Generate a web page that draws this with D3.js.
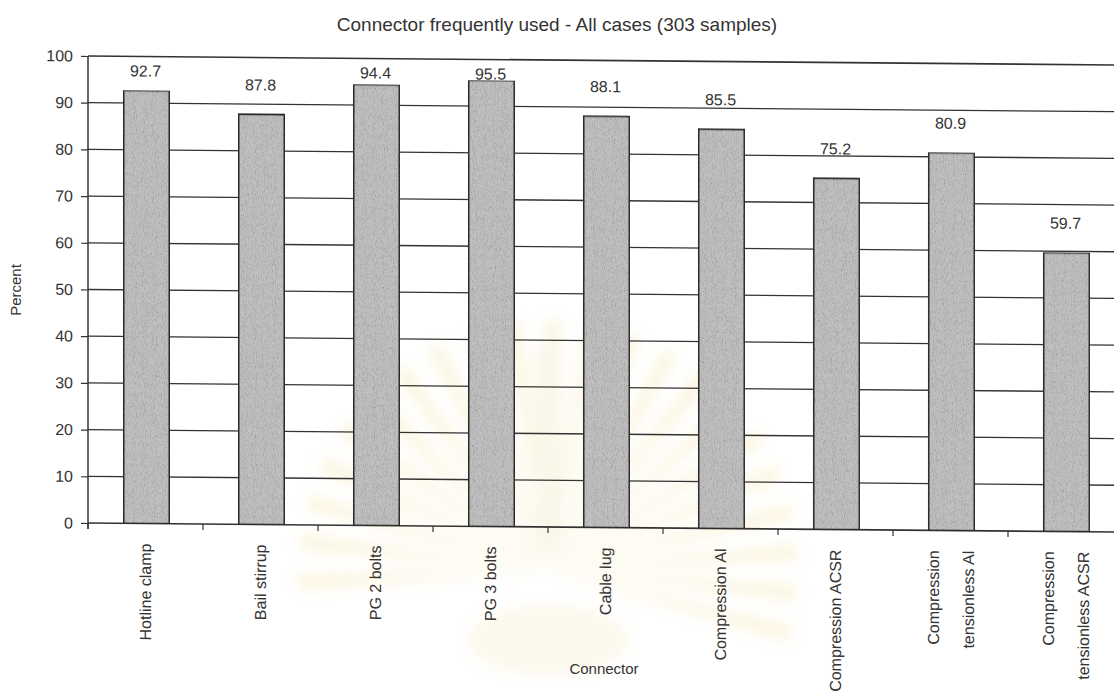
<!DOCTYPE html>
<html>
<head>
<meta charset="utf-8">
<script src="https://cdn.jsdelivr.net/npm/d3@7"></script>
<style>
  html, body { margin: 0; padding: 0; background: #fff; }
  svg { display: block; font-family: "Liberation Sans", Arial, sans-serif; }
</style>
</head>
<body>
<svg id="chart" width="1114" height="698"></svg>
<script>
// Connector usage, all cases (303 samples)
const connectors = [
  ["Hotline clamp"],
  ["Bail stirrup"],
  ["PG 2 bolts"],
  ["PG 3 bolts"],
  ["Cable lug"],
  ["Compression Al"],
  ["Compression ACSR"],
  ["Compression", "tensionless Al"],
  ["Compression", "tensionless ACSR"]
];
const percentUsed = [92.7, 87.8, 94.4, 95.5, 88.1, 85.5, 75.2, 80.9, 59.7];
const yTicks = [0, 10, 20, 30, 40, 50, 60, 70, 80, 90, 100];

const titleText = "Connector frequently used - All cases (303 samples)";
const yTitle = "Percent";
const xTitle = "Connector";

const svg = d3.select("#chart");
const W = 1114, H = 698;
const ink = "#333";

const plotLeft = 88, plotTop = 56, plotBottom = 523;
const step = 115;

const x = d3.scaleBand()
  .domain(d3.range(connectors.length))
  .range([plotLeft, plotLeft + step * connectors.length])
  .padding(0);

const y = d3.scaleLinear().domain([0, 100]).range([plotBottom, plotTop]);

// ---- defs: paper grain for the bars, soft blur for the emblem ----
const defs = svg.append("defs");
const grain = defs.append("filter").attr("id", "grain")
  .attr("x", 0).attr("y", 0).attr("width", 1).attr("height", 1);
grain.append("feTurbulence").attr("type", "fractalNoise")
  .attr("baseFrequency", 0.9).attr("numOctaves", 2).attr("seed", 7).attr("result", "n");
grain.append("feColorMatrix").attr("in", "n").attr("type", "saturate").attr("values", 0).attr("result", "g");
const ct = grain.append("feComponentTransfer").attr("in", "g").attr("result", "g2");
["feFuncR", "feFuncG", "feFuncB"].forEach(f =>
  ct.append(f).attr("type", "linear").attr("slope", 1.8).attr("intercept", 0.08));
ct.append("feFuncA").attr("type", "linear").attr("slope", 0).attr("intercept", 1);
grain.append("feBlend").attr("in", "SourceGraphic").attr("in2", "g2").attr("mode", "multiply").attr("result", "b");
grain.append("feComposite").attr("in", "b").attr("in2", "SourceGraphic").attr("operator", "in");

defs.append("filter").attr("id", "soft")
  .attr("x", "-20%").attr("y", "-20%").attr("width", "140%").attr("height", "140%")
  .append("feGaussianBlur").attr("stdDeviation", 7);

// ---- faint sunburst emblem printed on the page ----
const emblem = svg.append("g").attr("filter", "url(#soft)").attr("opacity", 0.22);
const cx0 = 548, cy0 = 570, rays = 22;
d3.range(rays).forEach(i => {
  const a0 = Math.PI + (i / rays) * Math.PI * 1.15 - 0.08;
  const a1 = a0 + 0.06;
  const r = 250;
  emblem.append("path")
    .attr("d", `M${cx0},${cy0} L${cx0 + r * Math.cos(a0)},${cy0 + r * Math.sin(a0)} L${cx0 + r * Math.cos(a1)},${cy0 + r * Math.sin(a1)} Z`)
    .attr("fill", "#eccf6a");
});
emblem.append("rect").attr("x", cx0 - 14).attr("y", 350).attr("width", 28).attr("height", 200)
  .attr("fill", "#e8d698");
emblem.append("ellipse").attr("cx", cx0).attr("cy", 640).attr("rx", 80).attr("ry", 35)
  .attr("fill", "#efe0a8");

// ---- title ----
svg.append("text")
  .attr("x", 557).attr("y", 31)
  .attr("text-anchor", "middle")
  .attr("font-size", 19).attr("fill", ink)
  .text(titleText);

// ---- y axis title ----
svg.append("text")
  .attr("transform", `translate(21,290) rotate(-90)`)
  .attr("text-anchor", "middle")
  .attr("font-size", 15).attr("fill", ink)
  .text(yTitle);

// ---- plot, slightly skewed like the printed page ----
const plot = svg.append("g")
  .attr("transform", `translate(${plotLeft},0) skewY(0.5) translate(${-plotLeft},0)`);

// gridlines
plot.append("g").selectAll("line").data(yTicks).join("line")
  .attr("x1", plotLeft).attr("x2", W + 20)
  .attr("y1", d => y(d)).attr("y2", d => y(d))
  .attr("stroke", ink).attr("stroke-width", d => d === 0 || d === 100 ? 1.6 : 1.3);

// y axis
const yAxis = d3.axisLeft(y).tickValues(yTicks).tickSize(7).tickPadding(8);
const yg = plot.append("g").attr("transform", `translate(${plotLeft},0)`).call(yAxis);
yg.select(".domain").attr("stroke", ink).attr("stroke-width", 1.5).attr("d", `M0,${plotBottom + 6}V${plotTop}`);
yg.selectAll(".tick line").attr("stroke", ink).attr("stroke-width", 1.2);
yg.selectAll(".tick text").attr("font-size", 16).attr("fill", ink)
  .attr("font-family", "Liberation Sans, Arial, sans-serif");

// category separator ticks on the x axis
const bounds = d3.range(connectors.length + 1).map(i => plotLeft + i * x.step());
plot.append("g").selectAll("line").data(bounds).join("line")
  .attr("x1", d => d).attr("x2", d => d)
  .attr("y1", plotBottom).attr("y2", plotBottom + 6)
  .attr("stroke", ink).attr("stroke-width", 1.2);

// bars
const barW = x.step() * 0.4;
plot.append("g").selectAll("rect").data(percentUsed).join("rect")
  .attr("x", (d, i) => x(i) + x.bandwidth() / 2 - barW / 2 + 1)
  .attr("y", d => y(d))
  .attr("width", barW)
  .attr("height", d => y(0) - y(d))
  .attr("fill", "#c0c0c0")
  .attr("stroke", "#2a2a2a").attr("stroke-width", 2)
  .attr("filter", "url(#grain)");

// value labels: above the bar, kept below the 100 line
plot.append("g").selectAll("text").data(percentUsed).join("text")
  .attr("x", (d, i) => x(i) + x.bandwidth() / 2)
  .attr("y", d => Math.max(y(d) - 24, y(100) + 20))
  .attr("text-anchor", "middle")
  .attr("font-size", 16).attr("fill", ink)
  .text(d => d.toFixed(1));

// category labels, rotated, one column per line
const lineGap = 35;
const cat = plot.append("g").selectAll("g").data(connectors).join("g")
  .attr("transform", (d, i) => `translate(${x(i) + x.bandwidth() / 2},543)`);
cat.each(function (lines) {
  const g = d3.select(this);
  lines.forEach((t, k) => {
    const off = (k - (lines.length - 1) / 2) * lineGap;
    g.append("text")
      .attr("transform", `translate(${off},0) rotate(-90)`)
      .attr("text-anchor", "end")
      .attr("dy", "0.36em")
      .attr("font-size", 16).attr("fill", ink)
      .text(t);
  });
});

// x axis title
svg.append("text")
  .attr("x", 604).attr("y", 674)
  .attr("text-anchor", "middle")
  .attr("font-size", 15).attr("fill", ink)
  .text(xTitle);
</script>
</body>
</html>
